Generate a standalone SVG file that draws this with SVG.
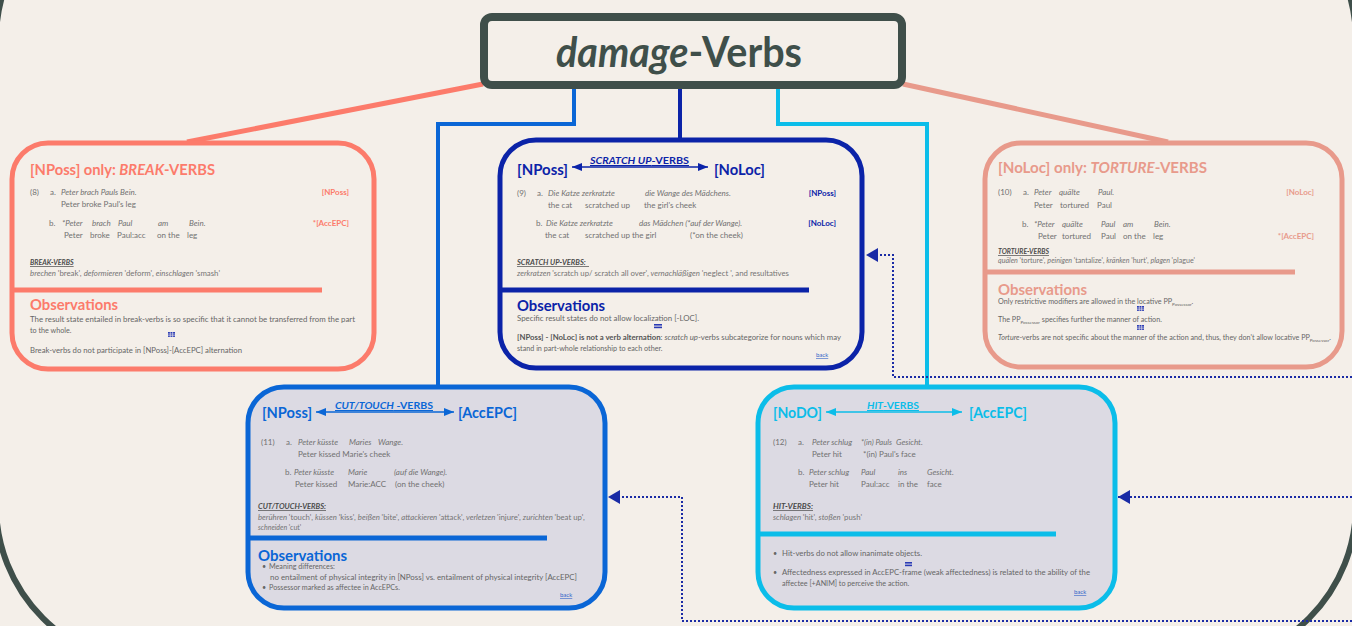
<svg xmlns="http://www.w3.org/2000/svg" width="1352" height="626" viewBox="0 0 1352 626">
<style>
text{font-family:Lato,"Noto Sans","DejaVu Sans",sans-serif;fill:#6b6b6b}
.ttl{font-size:42px;font-weight:bold;fill:#3f4f4a}
.hd{font-size:14.5px;font-weight:bold}
.ex{font-size:8px;fill:#717171}
.i{font-style:italic}
.tag{font-size:8px;font-weight:bold}
.vl{font-size:7px;font-weight:bold;font-style:italic;text-decoration:underline;fill:#4a4a4a}
.vs{font-size:7px;font-style:italic;fill:#747474}
.ob{font-size:16px;font-weight:bold}
.bd{font-size:7.2px;fill:#666}
.bk{font-size:6px;fill:#2f62c8;text-decoration:underline}
.lab{font-size:10px;font-weight:bold;text-decoration:underline}
.sub{font-size:4.5px}
.coral{fill:#fc7b6b}.pink{fill:#e89a8b}.navy{fill:#0b23a8}.blue{fill:#0a66d6}.cyan{fill:#0bbde9}
.box{stroke-width:5}
.div{stroke-width:5}
.dot{fill:none;stroke:#1a2ba5;stroke-width:2;stroke-dasharray:2 2}
.icon{fill:#2a3bb5}
</style>
<defs>
<marker id="dn" viewBox="0 0 12 14" refX="12" refY="7" markerWidth="12" markerHeight="14" markerUnits="userSpaceOnUse" orient="auto"><path d="M0,0 L12,7 L0,14 z" fill="#1a2ba5"/></marker>
<marker id="an" viewBox="0 0 10 8" refX="10" refY="4" markerWidth="10" markerHeight="8" markerUnits="userSpaceOnUse" orient="auto-start-reverse"><path d="M0,0 L10,4 L0,8 z" fill="#0b23a8"/></marker>
<marker id="ab" viewBox="0 0 10 8" refX="10" refY="4" markerWidth="10" markerHeight="8" markerUnits="userSpaceOnUse" orient="auto-start-reverse"><path d="M0,0 L10,4 L0,8 z" fill="#0a66d6"/></marker>
<marker id="ac" viewBox="0 0 10 8" refX="10" refY="4" markerWidth="10" markerHeight="8" markerUnits="userSpaceOnUse" orient="auto-start-reverse"><path d="M0,0 L10,4 L0,8 z" fill="#0bbde9"/></marker>
</defs>
<rect x="0" y="0" width="1352" height="626" fill="#f4efe9"/>
<rect id="frame" x="-4" y="-120" width="1360" height="785" rx="160" fill="none" stroke="#3f4f4a" stroke-width="6"/>

<g id="connectors">
<line x1="483" y1="84" x2="187" y2="142" stroke="#fc7b6b" stroke-width="5"/>
<line x1="903" y1="84" x2="1168" y2="142" stroke="#e89a8b" stroke-width="5"/>
<polyline points="574,89 574,124 438,124 438,387" fill="none" stroke="#0a66d6" stroke-width="4"/>
<line x1="680" y1="89" x2="680" y2="140" stroke="#0b23a8" stroke-width="4"/>
<polyline points="778,89 778,124 927,124 927,387" fill="none" stroke="#0bbde9" stroke-width="4"/>
<polyline class="dot" points="1352,377 893,377 893,255 866,255" marker-end="url(#dn)"/>
<polyline class="dot" points="1352,497 1118,497" marker-end="url(#dn)"/>
<polyline class="dot" points="1352,621 682,621 682,497 608,497" marker-end="url(#dn)"/>
</g>

<g id="title">
<rect x="484" y="17" width="418" height="68" rx="8" fill="#f4efe9" stroke="#3f4f4a" stroke-width="8"/>
<text class="ttl" x="556" y="67" textLength="246" lengthAdjust="spacingAndGlyphs"><tspan class="i">damage</tspan>-Verbs</text>
</g>

<g id="break">
<rect class="box" x="12" y="143" width="362" height="226" rx="36" fill="#f4efe9" stroke="#fc7b6b"/>
<line class="div" x1="12" y1="290" x2="322" y2="290" stroke="#fc7b6b"/>
<text class="hd coral" x="30" y="175" textLength="185" lengthAdjust="spacingAndGlyphs">[NPoss] only: <tspan class="i">BREAK</tspan>-VERBS</text>
<text class="ex" y="195"><tspan x="30">(8)</tspan><tspan x="50">a.</tspan><tspan x="61" class="i">Peter brach Pauls Bein.</tspan></text>
<text class="tag coral" x="349" y="195" text-anchor="end">[NPoss]</text>
<text class="ex" x="61" y="207">Peter broke Paul's leg</text>
<text class="ex" y="226"><tspan x="49">b.</tspan><tspan class="i" x="62">*Peter</tspan><tspan class="i" x="92">brach</tspan><tspan class="i" x="118">Paul</tspan><tspan class="i" x="158">am</tspan><tspan class="i" x="189">Bein.</tspan></text>
<text class="tag coral" x="349" y="226" text-anchor="end">*[AccEPC]</text>
<text class="ex" y="238"><tspan x="64">Peter</tspan><tspan x="90">broke</tspan><tspan x="117">Paul:acc</tspan><tspan x="157">on the</tspan><tspan x="187">leg</tspan></text>
<text class="vl" x="30" y="265">BREAK-VERBS</text>
<text class="vs" x="30" y="276" textLength="190" lengthAdjust="spacingAndGlyphs">brechen <tspan font-style="normal">'break'</tspan>, deformieren <tspan font-style="normal">'deform'</tspan>, einschlagen <tspan font-style="normal">'smash'</tspan></text>
<text class="ob coral" x="30" y="310" textLength="88" lengthAdjust="spacingAndGlyphs">Observations</text>
<text class="bd" x="30" y="322" textLength="325" lengthAdjust="spacingAndGlyphs">The result state entailed in break-verbs is so specific that it cannot be transferred from the part</text>
<text class="bd" x="30" y="333">to the whole.</text>
<g class="icon"><rect x="168" y="332" width="7" height="5"/></g>
<path d="M168,334 h7 M168,335.7 h7 M170.3,332 v5 M172.6,332 v5" stroke="#f4efe9" stroke-width="0.6"/>
<text class="bd" x="30" y="353" textLength="212" lengthAdjust="spacingAndGlyphs">Break-verbs do not participate in [NPoss]-[AccEPC] alternation</text>
</g>

<g id="scratch">
<rect class="box" x="500" y="140" width="362" height="228" rx="36" fill="#f4efe9" stroke="#0b23a8"/>
<line class="div" x1="500" y1="290" x2="809" y2="290" stroke="#0b23a8"/>
<text class="hd navy" x="517" y="175" textLength="51" lengthAdjust="spacingAndGlyphs">[NPoss]</text>
<line x1="572" y1="167" x2="708" y2="167" stroke="#0b23a8" stroke-width="1.6" marker-start="url(#an)" marker-end="url(#an)"/>
<text class="lab navy" x="590" y="164" textLength="99" lengthAdjust="spacingAndGlyphs"><tspan class="i">SCRATCH UP</tspan>-VERBS</text>
<text class="hd navy" x="714" y="175" textLength="51" lengthAdjust="spacingAndGlyphs">[NoLoc]</text>
<text class="ex" y="196"><tspan x="517">(9)</tspan><tspan x="537">a.</tspan><tspan class="i" x="548">Die Katze zerkratzte</tspan><tspan class="i" x="645">die Wange des Mädchens.</tspan></text>
<text class="tag navy" x="836" y="196" text-anchor="end">[NPoss]</text>
<text class="ex" y="208"><tspan x="548">the cat</tspan><tspan x="585">scratched up</tspan><tspan x="644">the girl's cheek</tspan></text>
<text class="ex" y="226"><tspan x="536">b.</tspan><tspan class="i" x="546">Die Katze zerkratzte</tspan><tspan class="i" x="639">das Mädchen (*auf der Wange).</tspan></text>
<text class="tag navy" x="836" y="226" text-anchor="end">[NoLoc]</text>
<text class="ex" y="238"><tspan x="545">the cat</tspan><tspan x="585">scratched up the girl</tspan><tspan x="690">(*on the cheek)</tspan></text>
<text class="vl" x="517" y="265" textLength="72" lengthAdjust="spacingAndGlyphs" xml:space="preserve">SCRATCH UP-VERBS:  </text>
<text class="vs" x="517" y="276" textLength="272" lengthAdjust="spacingAndGlyphs">zerkratzen <tspan font-style="normal">'scratch up/ scratch all over'</tspan>, vernachläßigen <tspan font-style="normal">'neglect '</tspan>, <tspan font-style="normal">and resultatives</tspan></text>
<text class="ob navy" x="517" y="311" textLength="88" lengthAdjust="spacingAndGlyphs">Observations</text>
<text class="bd" x="517" y="321" textLength="182" lengthAdjust="spacingAndGlyphs">Specific result states do not allow localization [-LOC].</text>
<rect class="icon" x="654" y="324" width="8" height="1.6"/><rect class="icon" x="654" y="326.6" width="8" height="1.6"/>
<text class="bd" x="517" y="340" textLength="324" lengthAdjust="spacingAndGlyphs"><tspan font-weight="bold" fill="#555">[NPoss] - [NoLoc] is not a verb alternation</tspan>: <tspan class="i">scratch up</tspan>-verbs subcategorize for nouns which may</text>
<text class="bd" x="517" y="351">stand in part-whole relationship to each other.</text>
<text class="bk" x="816" y="357">back</text>
</g>

<g id="torture">
<rect class="box" x="985" y="143" width="357" height="224" rx="36" fill="#f4efe9" stroke="#e89a8b"/>
<line class="div" x1="985" y1="272" x2="1295" y2="272" stroke="#e89a8b"/>
<text class="hd pink" x="998" y="173" textLength="209" lengthAdjust="spacingAndGlyphs">[NoLoc] only: <tspan class="i">TORTURE</tspan>-VERBS</text>
<text class="ex" y="195"><tspan x="998">(10)</tspan><tspan x="1023">a.</tspan><tspan class="i" x="1034">Peter</tspan><tspan class="i" x="1059">quälte</tspan><tspan class="i" x="1098">Paul.</tspan></text>
<text class="tag pink" x="1314" y="195" text-anchor="end">[NoLoc]</text>
<text class="ex" y="208"><tspan x="1034">Peter</tspan><tspan x="1060">tortured</tspan><tspan x="1097">Paul</tspan></text>
<text class="ex" y="227"><tspan x="1022">b.</tspan><tspan class="i" x="1034">*Peter</tspan><tspan class="i" x="1062">quälte</tspan><tspan class="i" x="1101">Paul</tspan><tspan class="i" x="1123">am</tspan><tspan class="i" x="1154">Bein.</tspan></text>
<text class="ex" y="239"><tspan x="1038">Peter</tspan><tspan x="1062">tortured</tspan><tspan x="1101">Paul</tspan><tspan x="1123">on the</tspan><tspan x="1153">leg</tspan></text>
<text class="tag pink" x="1314" y="239" text-anchor="end">*[AccEPC]</text>
<text class="vl" x="998" y="254" font-size="6" textLength="51" lengthAdjust="spacingAndGlyphs">TORTURE-VERBS</text>
<text class="vs" x="998" y="263" font-size="6" textLength="197" lengthAdjust="spacingAndGlyphs">quälen <tspan font-style="normal">'torture'</tspan>, peinigen <tspan font-style="normal">'tantalize'</tspan>, kränken <tspan font-style="normal">'hurt'</tspan>, plagen <tspan font-style="normal">'plague'</tspan></text>
<text class="ob pink" x="998" y="295" textLength="89" lengthAdjust="spacingAndGlyphs">Observations</text>
<text class="bd" x="998" y="304" font-size="6.3">Only restrictive modifiers are allowed in the locative PP<tspan class="sub" dy="1.5">Possessor</tspan><tspan dy="-1.5">.</tspan></text>
<g class="icon"><rect x="1137" y="306" width="7" height="5"/></g>
<path d="M1137,308 h7 M1137,309.7 h7 M1139.3,306 v5 M1141.6,306 v5" stroke="#f4efe9" stroke-width="0.6"/>
<text class="bd" x="998" y="322" font-size="6.3">The PP<tspan class="sub" dy="1.5">Possessor</tspan><tspan dy="-1.5"> specifies further the manner of action.</tspan></text>
<g class="icon"><rect x="1137" y="325" width="7" height="5"/></g>
<path d="M1137,327 h7 M1137,328.7 h7 M1139.3,325 v5 M1141.6,325 v5" stroke="#f4efe9" stroke-width="0.6"/>
<text class="bd" x="998" y="340" font-size="6.3" textLength="333" lengthAdjust="spacingAndGlyphs"><tspan class="i">Torture</tspan>-verbs are not specific about the manner of the action and, thus, they don't allow locative PP<tspan class="sub" dy="1.5">Possessor</tspan><tspan dy="-1.5">.</tspan></text>
</g>

<g id="cuttouch">
<rect class="box" x="248" y="387" width="357" height="221" rx="36" fill="#dcdae3" stroke="#0a66d6"/>
<line class="div" x1="248" y1="538" x2="547" y2="538" stroke="#0a66d6"/>
<text class="hd blue" x="262" y="418" textLength="50" lengthAdjust="spacingAndGlyphs">[NPoss]</text>
<line x1="316" y1="412" x2="454" y2="412" stroke="#0a66d6" stroke-width="1.6" marker-start="url(#ab)" marker-end="url(#ab)"/>
<text class="lab blue" x="335" y="409" textLength="98" lengthAdjust="spacingAndGlyphs" xml:space="preserve"><tspan class="i">CUT/TOUCH</tspan> -VERBS</text>
<text class="hd blue" x="458" y="418" textLength="59" lengthAdjust="spacingAndGlyphs">[AccEPC]</text>
<text class="ex" y="445"><tspan x="261">(11)</tspan><tspan x="286">a.</tspan><tspan class="i" x="298">Peter küsste</tspan><tspan class="i" x="349">Maries</tspan><tspan class="i" x="378">Wange.</tspan></text>
<text class="ex" x="298" y="457">Peter kissed Marie's cheek</text>
<text class="ex" y="475"><tspan x="285">b.</tspan><tspan class="i" x="294">Peter küsste</tspan><tspan class="i" x="348">Marie</tspan><tspan class="i" x="394">(auf die Wange).</tspan></text>
<text class="ex" y="487"><tspan x="295">Peter kissed</tspan><tspan x="348">Marie:ACC</tspan><tspan x="395">(on the cheek)</tspan></text>
<text class="vl" x="258" y="509" textLength="68" lengthAdjust="spacingAndGlyphs">CUT/TOUCH-VERBS:</text>
<text class="vs" x="258" y="520" font-size="6.6" textLength="327" lengthAdjust="spacingAndGlyphs">berühren <tspan font-style="normal">'touch'</tspan>, küssen <tspan font-style="normal">'kiss'</tspan>, beißen <tspan font-style="normal">'bite'</tspan>, attackieren <tspan font-style="normal">'attack'</tspan>, verletzen <tspan font-style="normal">'injure'</tspan>, zurichten <tspan font-style="normal">'beat up'</tspan>,</text>
<text class="vs" x="258" y="530" font-size="6.6">schneiden <tspan font-style="normal">'cut'</tspan></text>
<text class="ob blue" x="258" y="561" textLength="89" lengthAdjust="spacingAndGlyphs">Observations</text>
<text class="bd" x="262" y="569">•</text><text class="bd" x="269" y="569">Meaning differences:</text>
<text class="bd" x="270" y="580" textLength="307" lengthAdjust="spacingAndGlyphs">no entailment of physical integrity in [NPoss] vs. entailment of physical integrity [AccEPC]</text>
<text class="bd" x="262" y="590">•</text><text class="bd" x="269" y="590">Possessor marked as affectee in AccEPCs.</text>
<text class="bk" x="560" y="597">back</text>
</g>

<g id="hit">
<rect class="box" x="758" y="387" width="357" height="221" rx="36" fill="#dcdae3" stroke="#0bbde9"/>
<line class="div" x1="758" y1="534" x2="1056" y2="534" stroke="#0bbde9"/>
<text class="hd cyan" x="773" y="418" textLength="49" lengthAdjust="spacingAndGlyphs">[NoDO]</text>
<line x1="826" y1="412" x2="962" y2="412" stroke="#0bbde9" stroke-width="1.6" marker-start="url(#ac)" marker-end="url(#ac)"/>
<text class="lab cyan" x="867" y="409" textLength="52" lengthAdjust="spacingAndGlyphs"><tspan class="i">HIT</tspan>-VERBS</text>
<text class="hd cyan" x="969" y="418" textLength="58" lengthAdjust="spacingAndGlyphs">[AccEPC]</text>
<text class="ex" y="445"><tspan x="773">(12)</tspan><tspan x="798">a.</tspan><tspan class="i" x="812">Peter schlug</tspan><tspan class="i" x="861" textLength="31" lengthAdjust="spacingAndGlyphs">*(in) Pauls</tspan><tspan class="i" x="896">Gesicht.</tspan></text>
<text class="ex" y="457"><tspan x="812">Peter hit</tspan><tspan x="863">*(in) Paul's face</tspan></text>
<text class="ex" y="475"><tspan x="798">b.</tspan><tspan class="i" x="809">Peter schlug</tspan><tspan class="i" x="861">Paul</tspan><tspan class="i" x="898">ins</tspan><tspan class="i" x="927">Gesicht.</tspan></text>
<text class="ex" y="487"><tspan x="809">Peter hit</tspan><tspan x="861">Paul:acc</tspan><tspan x="898">in the</tspan><tspan x="927">face</tspan></text>
<text class="vl" x="773" y="509" textLength="40" lengthAdjust="spacingAndGlyphs">HIT-VERBS:</text>
<text class="vs" x="773" y="520" textLength="89" lengthAdjust="spacingAndGlyphs">schlagen <tspan font-style="normal">'hit'</tspan>, stoßen <tspan font-style="normal">'push'</tspan></text>
<text class="bd" x="773" y="556">•</text><text class="bd" x="782" y="556" textLength="140" lengthAdjust="spacingAndGlyphs">Hit-verbs do not allow inanimate objects.</text>
<rect class="icon" x="905" y="562" width="7" height="1.6"/><rect class="icon" x="905" y="564.6" width="7" height="1.6"/>
<text class="bd" x="773" y="575">•</text><text class="bd" x="782" y="575" textLength="308" lengthAdjust="spacingAndGlyphs">Affectedness expressed in AccEPC-frame (weak affectedness) is related to the ability of the</text>
<text class="bd" x="782" y="586">affectee [+ANIM] to perceive the action.</text>
<text class="bk" x="1074" y="594">back</text>
</g>
</svg>
